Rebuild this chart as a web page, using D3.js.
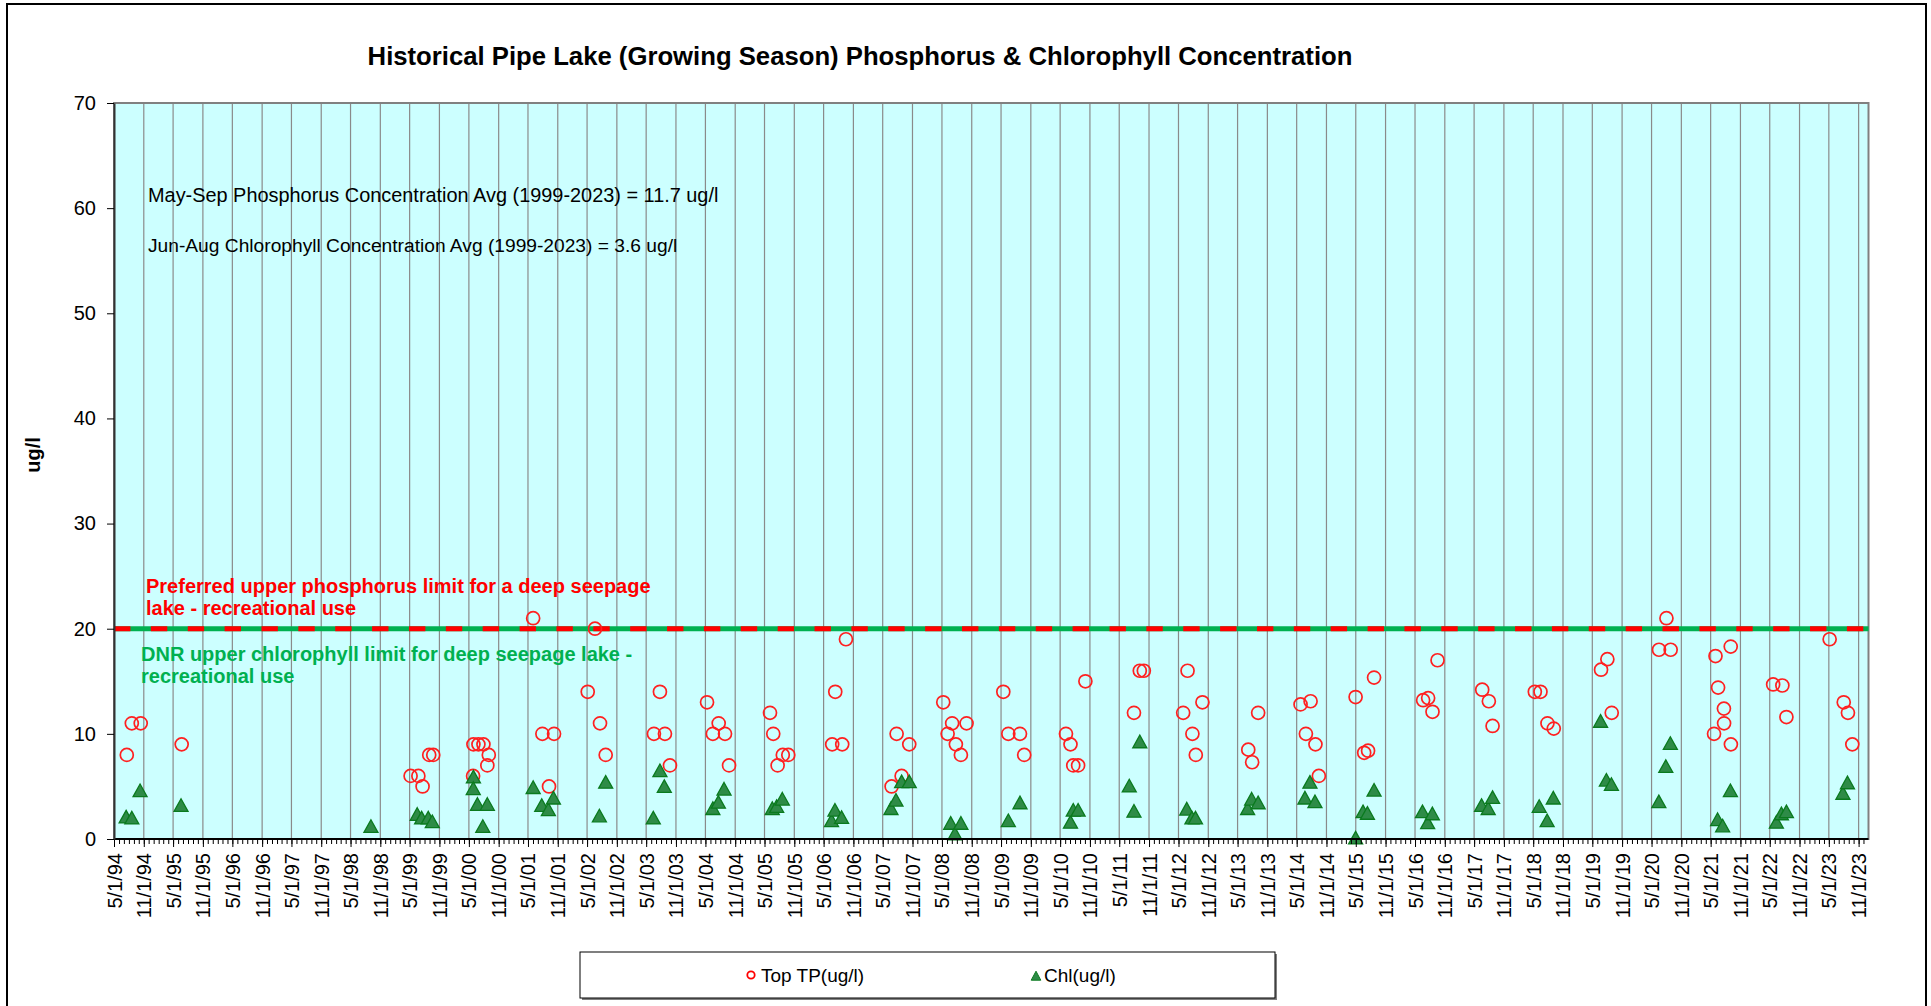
<!DOCTYPE html>
<html><head><meta charset="utf-8">
<script src="https://cdn.jsdelivr.net/npm/d3@7"></script>
<style>
html,body{margin:0;padding:0;background:#fff;overflow:hidden}
svg{display:block;font-family:"Liberation Sans",Arial,sans-serif}
</style>
</head><body>
<svg id="c" width="1931" height="1006"></svg>
<script>
// ---- data ----
const tpDates = ["1994-07-19","1994-08-19","1994-10-13","1995-06-23",
 "1999-05-07","1999-06-24","1999-07-20","1999-08-30","1999-09-24",
 "2000-05-29","2000-06-29","2000-07-30","2000-09-01","2000-08-23","2000-05-27",
 "2001-06-02","2001-07-29","2001-10-09","2001-09-08",
 "2002-05-05","2002-06-19","2002-07-20","2002-08-24",
 "2003-06-18","2003-07-25","2003-08-25","2003-09-25",
 "2004-05-11","2004-06-16","2004-07-22","2004-08-30","2004-09-24",
 "2005-06-04","2005-06-24","2005-07-21","2005-08-22","2005-09-25",
 "2006-06-23","2006-07-12","2006-08-24","2006-09-16",
 "2007-06-25","2007-07-26","2007-08-26","2007-10-12",
 "2008-05-09","2008-06-05","2008-07-03","2008-07-26","2008-08-26","2008-09-30",
 "2009-05-15","2009-06-15","2009-08-26","2009-09-21",
 "2010-06-06","2010-07-04","2010-07-21","2010-08-20","2010-10-04",
 "2011-07-31","2011-09-05","2011-09-30",
 "2012-05-30","2012-06-26","2012-07-26","2012-08-16","2012-09-26",
 "2013-07-06","2013-07-30","2013-09-05",
 "2014-05-25","2014-06-27","2014-07-26","2014-08-25","2014-09-15",
 "2015-04-30","2015-06-22","2015-07-16","2015-08-22",
 "2016-06-20","2016-07-21","2016-08-17","2016-09-17",
 "2017-06-20","2017-07-31","2017-08-23",
 "2018-05-11","2018-06-15","2018-07-28","2018-09-05",
 "2019-06-24","2019-08-02","2019-08-29",
 "2020-06-16","2020-08-01","2020-08-27",
 "2021-05-22","2021-05-31","2021-06-16","2021-07-22","2021-07-23","2021-09-02","2021-09-03",
 "2022-05-22","2022-07-18","2022-08-12",
 "2023-05-06","2023-08-01","2023-08-27","2023-09-23"];
const tpValues = [8,11,11,9,
 6,6,5,8,8,
 9,9,9,8,7,6,
 21,10,10,5,
 14,20,11,8,
 10,14,10,7,
 13,10,11,10,7,
 12,10,7,8,8,
 9,14,9,19,
 5,10,6,9,
 13,10,11,9,8,11,
 14,10,10,8,
 10,9,7,7,15,
 12,16,16,
 12,16,10,8,13,
 8.5,7.3,12,
 12.8,10,13.1,9,6,
 13.5,8.2,8.4,15.35,
 13.2,13.4,12.1,17,
 14.2,13.1,10.75,
 14,14,11,10.5,
 16.1,17.1,12,
 18,21,18,
 10,17.4,14.4,12.4,11,18.3,9,
 14.7,14.6,11.6,
 19,13,12,9];
const chlDates = ["1994-07-15","1994-08-19","1994-10-09","1995-06-19",
 "1998-09-04",
 "1999-06-17","1999-07-14","1999-08-24","1999-09-18",
 "2000-05-29","2000-05-28","2000-06-23","2000-07-26","2000-08-23",
 "2001-06-02","2001-07-25","2001-09-04","2001-10-05",
 "2002-07-16","2002-08-24",
 "2003-06-14","2003-07-25","2003-08-21",
 "2004-06-16","2004-07-20","2004-08-24",
 "2005-06-18","2005-07-15","2005-08-19",
 "2006-06-19","2006-07-10","2006-08-20",
 "2007-06-21","2007-07-22","2007-08-26","2007-10-12",
 "2008-06-24","2008-07-20","2008-08-26",
 "2009-06-15","2009-08-26",
 "2010-07-04","2010-07-21","2010-08-20",
 "2011-07-02","2011-07-31","2011-09-05",
 "2012-06-21","2012-07-23","2012-08-14",
 "2013-07-02","2013-07-27","2013-09-05",
 "2014-06-21","2014-07-22","2014-08-22",
 "2015-04-30","2015-06-15","2015-07-12","2015-08-22",
 "2016-06-16","2016-07-18","2016-08-16",
 "2017-06-16","2017-07-27","2017-08-23",
 "2018-06-07","2018-07-26","2018-09-02",
 "2019-06-21","2019-07-27","2019-08-27",
 "2020-06-15","2020-07-28","2020-08-25",
 "2021-06-13","2021-07-14","2021-08-31",
 "2022-06-11","2022-07-12","2022-08-12",
 "2023-07-27","2023-08-24"];
const chlValues = [2.1,2.0,4.6,3.2,
 1.2,
 2.35,2.0,2.0,1.65,
 5.9,4.8,3.3,1.2,3.3,
 4.9,3.2,2.8,3.9,
 2.2,5.4,
 2.0,6.5,5.0,
 2.9,3.5,4.75,
 2.9,3.1,3.8,
 1.75,2.75,2.05,
 2.9,3.7,5.45,5.45,
 1.5,0.5,1.5,
 1.75,3.45,
 1.6,2.75,2.75,
 5.05,2.65,9.25,
 2.85,2.0,2.0,
 2.9,3.8,3.45,
 3.9,5.4,3.55,
 0.1,2.6,2.45,4.65,
 2.6,1.55,2.4,
 3.2,2.9,3.95,
 3.1,1.75,3.9,
 11.2,5.6,5.2,
 3.55,6.9,9.1,
 1.85,1.25,4.6,
 1.6,2.4,2.6,
 4.35,5.35];
const yTicks = [0,10,20,30,40,50,60,70];
const limitValue = 20;
const titleText = "Historical Pipe Lake (Growing Season) Phosphorus & Chlorophyll Concentration";
const noteLines = ["May-Sep Phosphorus Concentration Avg (1999-2023) = 11.7 ug/l",
                   "Jun-Aug Chlorophyll Concentration Avg (1999-2023) = 3.6 ug/l"];
const redNote = ["Preferred upper phosphorus limit for a deep seepage", "lake - recreational use"];
const greenNote = ["DNR upper chlorophyll limit for deep seepage lake -", "recreational use"];
const legendLabels = ["Top TP(ug/l)", "Chl(ug/l)"];
const yLabel = "ug/l";

// ---- drawing ----
const parse = d3.utcParse("%Y-%m-%d");
const svg = d3.select("#c");
const P = {left:114, right:1868.5, top:103, bottom:839};
const x = d3.scaleUtc().domain([new Date(Date.UTC(1994,4,1)), new Date(Date.UTC(2024,0,1))]).range([P.left, P.right]);
const y = d3.scaleLinear().domain([0,70]).range([P.bottom, P.top]);

// outer border
svg.append("rect").attr("x",7).attr("y",4).attr("width",1919).attr("height",1020)
  .attr("fill","none").attr("stroke","#000").attr("stroke-width",2);

// plot background
svg.append("rect").attr("x",P.left).attr("y",P.top).attr("width",P.right-P.left).attr("height",P.bottom-P.top)
  .attr("fill","#CCFFFF");

const majors = d3.utcMonth.range(new Date(Date.UTC(1994,4,1)), new Date(Date.UTC(2023,10,2)), 6);
const minors = d3.utcMonth.range(x.domain()[0], x.domain()[1]);

// vertical gridlines
svg.append("g").selectAll("line").data(majors).join("line")
  .attr("x1",d=>x(d)).attr("x2",d=>x(d)).attr("y1",P.top).attr("y2",P.bottom)
  .attr("stroke","#8a8a8a").attr("stroke-width",1.2);

// plot border
svg.append("rect").attr("x",P.left).attr("y",P.top).attr("width",P.right-P.left).attr("height",P.bottom-P.top)
  .attr("fill","none").attr("stroke","#808080").attr("stroke-width",2);

// limit line (green with red dashes)
svg.append("line").attr("x1",P.left).attr("x2",P.right).attr("y1",y(limitValue)).attr("y2",y(limitValue))
  .attr("stroke","#00B050").attr("stroke-width",5);
svg.append("line").attr("x1",P.left).attr("x2",P.right).attr("y1",y(limitValue)).attr("y2",y(limitValue))
  .attr("stroke","#FF0000").attr("stroke-width",5).attr("stroke-dasharray","16.4,20.47");

// notes
const noteSizes = [19.9, 19.2];
svg.append("g").attr("fill","#000")
  .selectAll("text").data(noteLines).join("text")
  .attr("font-size",(d,i)=>noteSizes[i])
  .attr("x",148).attr("y",(d,i)=>202+i*50).text(d=>d);

svg.append("g").attr("font-size",20).attr("font-weight","bold").attr("fill","#FF0000")
  .selectAll("text").data(redNote).join("text")
  .attr("x",146).attr("y",(d,i)=>593+i*21.5).text(d=>d);
svg.append("g").attr("font-size",20).attr("font-weight","bold").attr("fill","#00B050")
  .selectAll("text").data(greenNote).join("text")
  .attr("x",141).attr("y",(d,i)=>661+i*21.5).text(d=>d);

// data markers
const tp = tpDates.map((d,i)=>({date:parse(d), v:tpValues[i]}));
const chl = chlDates.map((d,i)=>({date:parse(d), v:chlValues[i]}));
svg.append("g").selectAll("circle").data(tp).join("circle")
  .attr("cx",d=>x(d.date)).attr("cy",d=>y(d.v)).attr("r",6.5)
  .attr("fill","none").attr("stroke","#FF2020").attr("stroke-width",1.7);
const tri = "M0,-6.6L7,6L-7,6Z";
svg.append("g").selectAll("path").data(chl).join("path")
  .attr("transform",d=>`translate(${x(d.date)},${y(d.v)})`).attr("d",tri)
  .attr("fill","#2E8B47").attr("stroke","#0A7A1E").attr("stroke-width",1.3);

// x axis
const fmt = d3.utcFormat("%-m/%-d/%y");
svg.append("g").attr("transform",`translate(0,${P.bottom})`)
  .call(d3.axisBottom(x).tickValues(minors).tickSize(5).tickFormat("").tickSizeOuter(0))
  .call(g=>g.select(".domain").remove())
  .call(g=>g.selectAll("line").attr("stroke","#000"));
const xa = svg.append("g").attr("transform",`translate(0,${P.bottom})`)
  .call(d3.axisBottom(x).tickValues(majors).tickSize(8).tickFormat(fmt).tickSizeOuter(0));
xa.select(".domain").attr("stroke","#000").attr("stroke-width",2).attr("d",`M${P.left},0H${P.right}`);
xa.selectAll("line").attr("stroke","#000");
xa.selectAll("text").attr("font-size",20).attr("font-family","Liberation Sans, Arial, sans-serif")
  .attr("fill","#000").attr("transform","rotate(-90)").attr("text-anchor","end")
  .attr("x",-14).attr("y",0).attr("dy","0.35em");

// y axis
const ya = svg.append("g").attr("transform",`translate(${P.left},0)`)
  .call(d3.axisLeft(y).tickValues(yTicks).tickSize(7).tickPadding(11).tickSizeOuter(0));
ya.select(".domain").attr("stroke","#333").attr("stroke-width",2);
ya.selectAll("line").attr("stroke","#000");
ya.selectAll("text").attr("font-size",20).attr("font-family","Liberation Sans, Arial, sans-serif").attr("fill","#000");

// y label
svg.append("text").attr("transform","translate(40,455) rotate(-90)").attr("text-anchor","middle")
  .attr("font-size",20).attr("font-weight","bold").text(yLabel);

// title
svg.append("text").attr("x",860).attr("y",65).attr("text-anchor","middle")
  .attr("font-size",25.7).attr("font-weight","bold").text(titleText);

// legend
svg.append("rect").attr("x",582).attr("y",954).attr("width",695).attr("height",46).attr("fill","#808080");
svg.append("rect").attr("x",580).attr("y",952).attr("width",695).attr("height",46)
  .attr("fill","#fff").attr("stroke","#000").attr("stroke-width",1);
const lg = svg.append("g").attr("font-size",19);
lg.append("circle").attr("cx",751).attr("cy",975).attr("r",3.7).attr("fill","none").attr("stroke","#FF0000").attr("stroke-width",1.8);
lg.append("text").attr("x",761).attr("y",982).text(legendLabels[0]);
lg.append("path").attr("transform","translate(1036,976)").attr("d","M0,-4.8L4.8,4.2L-4.8,4.2Z").attr("fill","#2E8B47").attr("stroke","#0A7A1E");
lg.append("text").attr("x",1044).attr("y",982).text(legendLabels[1]);
</script>
</body></html>
